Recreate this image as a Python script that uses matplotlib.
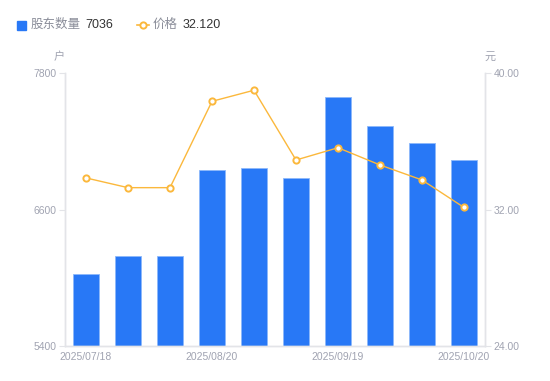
import matplotlib
matplotlib.use("Agg")
import matplotlib.pyplot as plt
import numpy as np

DATES = ["2025/07/18", "2025/07/31", "2025/08/10", "2025/08/20", "2025/08/31",
         "2025/09/10", "2025/09/19", "2025/09/30", "2025/10/10", "2025/10/20"]
HOLDERS = [6030, 6188, 6188, 6947, 6962, 6874, 7589, 7334, 7185, 7036]
PRICE = [33.85, 33.28, 33.28, 38.34, 38.99, 34.90, 35.62, 34.61, 33.73, 32.12]
SHOWN_TICKS = [0, 3, 6, 9]

plt.rcParams["font.family"] = ["Liberation Sans", "Noto Sans CJK SC", "DejaVu Sans"]

BAR = "#2878f6"
BAR_EDGE = "#8cb8fa"
LINE = "#fbb83c"
GREY = "#a0a3b1"
AXIS = "#e3e4e8"

fig = plt.figure(figsize=(5.5, 3.81), dpi=100)
ax = fig.add_axes([65 / 550, 35 / 381, 420 / 550, 273 / 381])
ax2 = ax.twinx()

x = np.arange(len(DATES))
ax.bar(x, HOLDERS, width=0.6, color=BAR, edgecolor=BAR_EDGE, linewidth=0.6, zorder=2)
ax2.plot(x, PRICE, color=LINE, linewidth=1.0, marker="o", markersize=4.5,
         markerfacecolor="white", markeredgecolor=LINE, markeredgewidth=1.4, zorder=3)

ax.set_xlim(-0.5, len(DATES) - 0.5)
ax.set_ylim(5400, 7800)
ax2.set_ylim(24, 40)
ax.set_yticks([5400, 6600, 7800])
ax2.set_yticks([24, 32, 40])
ax2.set_yticklabels(["24.00", "32.00", "40.00"])
ax.set_xticks(SHOWN_TICKS)
ax.set_xticklabels([DATES[i] for i in SHOWN_TICKS])

for a in (ax, ax2):
    a.spines["top"].set_visible(False)
    for side in ("left", "right", "bottom"):
        a.spines[side].set_color(AXIS)
        a.spines[side].set_linewidth(1.0)
    a.tick_params(axis="y", colors=AXIS, labelcolor=GREY, labelsize=7.5, length=4, width=0.8, pad=2)
ax.tick_params(axis="x", length=0, labelcolor=GREY, labelsize=7.5, pad=4)

fig.text(59 / 550, 1 - 57 / 381, "户", color=GREY, fontsize=8, ha="center", va="center")
fig.text(490 / 550, 1 - 57 / 381, "元", color=GREY, fontsize=8, ha="center", va="center")

# legend row
ly = 1 - 25 / 381
fig.patches.append(plt.Rectangle((17 / 550, ly - 4.5 / 381), 9 / 550, 9 / 381,
                                 transform=fig.transFigure, color=BAR, figure=fig))
fig.text(31 / 550, ly, "股东数量", color="#8a8d99", fontsize=9, ha="left", va="center")
fig.text(85 / 550, ly, "7036", color="#333333", fontsize=9, ha="left", va="center")
fig.lines.append(plt.Line2D([137 / 550, 149 / 550], [ly, ly], transform=fig.transFigure,
                            color=LINE, linewidth=1.2, figure=fig))
fig.lines.append(plt.Line2D([143 / 550], [ly], transform=fig.transFigure,
                            color=LINE, linestyle="none", marker="o", markersize=4.5,
                            markerfacecolor="white", markeredgecolor=LINE,
                            markeredgewidth=1.4, figure=fig))
fig.text(153 / 550, ly, "价格", color="#8a8d99", fontsize=9, ha="left", va="center")
fig.text(183 / 550, ly, "32.120", color="#333333", fontsize=9, ha="left", va="center")

fig.savefig("out.png", dpi=100)
